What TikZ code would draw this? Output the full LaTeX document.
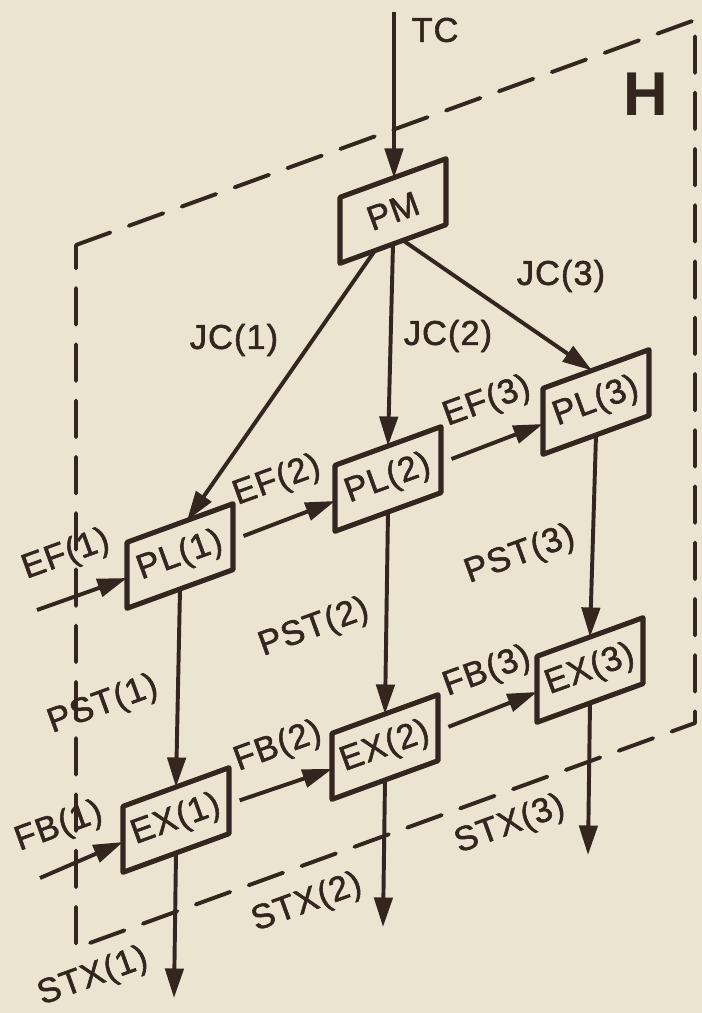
\documentclass[tikz,border=0pt]{standalone}
\usepackage{fontspec}
\setmainfont{Liberation Sans}[FakeBold=1.6,LetterSpace=3,BoldFont=Liberation Sans Bold,BoldFeatures={FakeBold=0,LetterSpace=0}]
\usetikzlibrary{calc,arrows.meta}
\definecolor{paper}{HTML}{EBE4D1}
\definecolor{ink}{HTML}{33261F}

% slanted box: name, centre, text
\newcommand\skewbox[3]{%
  \node[boxtext] (#1) at #2 {#3};
  \draw[boxline] ($(#1)+(-53,-13.7)$) -- ($(#1)+(53,-52.3)$) -- ($(#1)+(53,13.7)$) -- ($(#1)+(-53,52.3)$) -- cycle;
  \coordinate (#1-n) at ($(#1)+(0,-33)$);
  \coordinate (#1-s) at ($(#1)+(0,33)$);
  \coordinate (#1-w) at ($(#1)+(-53,22)$);
  \coordinate (#1-e) at ($(#1)+(53,-16)$);
}

\begin{document}
\begin{tikzpicture}[x=0.025cm,y=-0.025cm,
  line join=round,
  every node/.style={text=ink, font=\fontsize{24.5}{29}\selectfont, inner sep=0pt},
  lbl/.style={rotate=20},
  boxtext/.style={rotate=20},
  flow/.style={draw=ink, line width=2.8pt, -{Triangle[length=21pt,width=13pt]}},
  boxline/.style={draw=ink, line width=3.6pt},
  frame/.style={draw=ink, line width=2.8pt, dash pattern=on 26pt off 14pt, line cap=round}]

\fill[paper] (0,0) rectangle (702,1013);
\useasboundingbox (0,0) rectangle (702,1013);

% hierarchy frame H
\coordinate (f1) at (76,245);
\coordinate (f2) at (695,20);
\coordinate (f3) at (695,723);
\coordinate (f4) at (76,948);
\draw[frame] (f1) -- (f2) -- (f3) -- (f4) -- cycle;
\node[font=\bfseries\fontsize{44}{50}\selectfont] (h) at (646,94) {H};

% boxes
\skewbox{pm}{(393,211)}{PM}
\skewbox{pl1}{(180,556)}{PL(1)}
\skewbox{pl2}{(388,479)}{PL(2)}
\skewbox{pl3}{(596,402)}{PL(3)}
\skewbox{ex1}{(176,820)}{EX(1)}
\skewbox{ex2}{(385,747)}{EX(2)}
\skewbox{ex3}{(590,670)}{EX(3)}

% free ends
\coordinate (tcin) at (394,12);
\coordinate (ef1in) at (37,610);
\coordinate (fb1in) at (40,878);
\coordinate (stx1out) at (174,998);
\coordinate (stx2out) at (383,927);
\coordinate (stx3out) at (588,855);

% connectors
\draw[flow] (tcin) -- (tcin |- pm-n);
\draw[flow] ($(pm-s)+(-18,6.5)$) -- ($(pl1-n)+(7,-2.5)$);
\draw[flow] (pm-s) -- (pl2-n);
\draw[flow] ($(pm-s)+(10,-3.6)$) -- ($(pl3-n)+(-4,1.5)$);
\draw[flow] (ef1in) -- (pl1-w);
\draw[flow, shorten <=8pt] (pl1-e) -- (pl2-w);
\draw[flow, shorten <=8pt] (pl2-e) -- (pl3-w);
\draw[flow] (pl1-s) -- (ex1-n);
\draw[flow] (pl2-s) -- (ex2-n);
\draw[flow] (pl3-s) -- (ex3-n);
\draw[flow] (fb1in) -- (ex1-w);
\draw[flow, shorten <=8pt] (ex1-e) -- (ex2-w);
\draw[flow, shorten <=8pt] (ex2-e) -- (ex3-w);
\draw[flow] (ex1-s) -- (stx1out);
\draw[flow] (ex2-s) -- (stx2out);
\draw[flow] (ex3-s) -- (stx3out);

% labels
\node (tc) at (435,30) {TC};
\node (jc1) at (234,340) {JC(1)};
\node (jc2) at (448,336) {JC(2)};
\node (jc3) at (561,276) {JC(3)};
\node[lbl] (ef1) at (66,555) {EF(1)};
\node[lbl] (ef2) at (277,481) {EF(2)};
\node[lbl] (ef3) at (487,402) {EF(3)};
\node[lbl] (pst1) at (103,705) {PST(1)};
\node[lbl] (pst2) at (314,628) {PST(2)};
\node[lbl] (pst3) at (520,555) {PST(3)};
\node[lbl] (fb1) at (59,827) {FB(1)};
\node[lbl] (fb2) at (278,747) {FB(2)};
\node[lbl] (fb3) at (487,672) {FB(3)};
\node[lbl] (stx1) at (93,977) {STX(1)};
\node[lbl] (stx2) at (307,903) {STX(2)};
\node[lbl] (stx3) at (510,825) {STX(3)};
\end{tikzpicture}
\end{document}
